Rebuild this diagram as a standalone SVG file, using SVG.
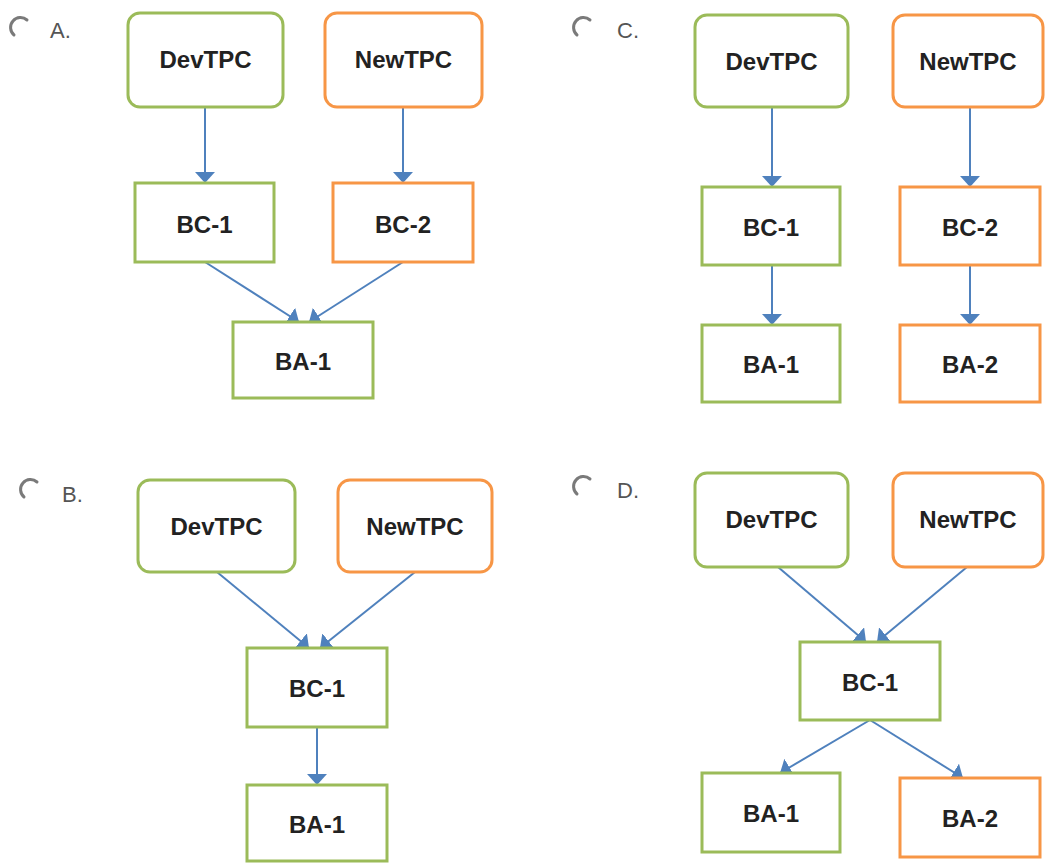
<svg xmlns="http://www.w3.org/2000/svg" width="1046" height="864" viewBox="0 0 1046 864">
<style>
.g{fill:#fff;stroke:#9BBB59;stroke-width:3}
.o{fill:#fff;stroke:#F79646;stroke-width:3}
.t{font-family:"Liberation Sans",Arial,sans-serif;font-weight:bold;font-size:24px;fill:#222;text-anchor:middle}
.lbl{font-family:"Liberation Sans",Arial,sans-serif;font-size:22px;fill:#555}
.radio{fill:none;stroke:#7a7a7a;stroke-width:3;stroke-linecap:round}
.c{stroke:#4F81BD;stroke-width:2;fill:none;marker-end:url(#ah)}
</style>
<defs>
<marker id="ah" viewBox="0 0 11 20" refX="11" refY="10" markerWidth="11" markerHeight="20" markerUnits="userSpaceOnUse" orient="auto">
<path d="M0,0 L11,10 L0,20 z" fill="#4F81BD"/>
</marker>
</defs>
<rect width="1046" height="864" fill="#fff"/>

<g id="labels">
<path class="radio" d="M27,20 A9.5,9.5 0 1 0 14,35"/>
<text class="lbl" x="50" y="38">A.</text>
<path class="radio" d="M590,20 A9.5,9.5 0 1 0 577,35"/>
<text class="lbl" x="617" y="38">C.</text>
<path class="radio" d="M37,482 A9.5,9.5 0 1 0 24,497"/>
<text class="lbl" x="62" y="502">B.</text>
<path class="radio" d="M590,479 A9.5,9.5 0 1 0 577,494"/>
<text class="lbl" x="617" y="498">D.</text>
</g>

<g id="connectors">
<line class="c" x1="205" y1="107" x2="205" y2="183"/>
<line class="c" x1="403" y1="107" x2="403" y2="183"/>
<line class="c" x1="205" y1="262" x2="299" y2="322"/>
<line class="c" x1="403" y1="262" x2="309" y2="322"/>

<line class="c" x1="772" y1="107" x2="772" y2="187"/>
<line class="c" x1="970" y1="107" x2="970" y2="187"/>
<line class="c" x1="772" y1="265" x2="772" y2="325"/>
<line class="c" x1="970" y1="265" x2="970" y2="325"/>

<line class="c" x1="217" y1="572" x2="309" y2="648"/>
<line class="c" x1="415" y1="572" x2="320" y2="648"/>
<line class="c" x1="317" y1="727" x2="317" y2="785"/>

<line class="c" x1="778" y1="567" x2="866" y2="642"/>
<line class="c" x1="967" y1="567" x2="877" y2="642"/>
<line class="c" x1="870" y1="720" x2="780" y2="773"/>
<line class="c" x1="870" y1="720" x2="963" y2="778"/>
</g>

<g id="A-DevTPC"><rect class="g" x="128" y="13" width="155" height="94" rx="12"/><text class="t" x="205.5" y="68">DevTPC</text></g>
<g id="A-NewTPC"><rect class="o" x="325" y="13" width="157" height="94" rx="12"/><text class="t" x="403.5" y="68">NewTPC</text></g>
<g id="A-BC-1"><rect class="g" x="135" y="183" width="139" height="79"/><text class="t" x="204.5" y="233">BC-1</text></g>
<g id="A-BC-2"><rect class="o" x="333" y="183" width="140" height="79"/><text class="t" x="403" y="233">BC-2</text></g>
<g id="A-BA-1"><rect class="g" x="233" y="322" width="140" height="76"/><text class="t" x="303" y="370">BA-1</text></g>

<g id="C-DevTPC"><rect class="g" x="695" y="15" width="153" height="92" rx="12"/><text class="t" x="771.5" y="70">DevTPC</text></g>
<g id="C-NewTPC"><rect class="o" x="893" y="15" width="150" height="92" rx="12"/><text class="t" x="968" y="70">NewTPC</text></g>
<g id="C-BC-1"><rect class="g" x="702" y="187" width="138" height="78"/><text class="t" x="771" y="236">BC-1</text></g>
<g id="C-BC-2"><rect class="o" x="900" y="187" width="140" height="78"/><text class="t" x="970" y="236">BC-2</text></g>
<g id="C-BA-1"><rect class="g" x="702" y="325" width="138" height="77"/><text class="t" x="771" y="373">BA-1</text></g>
<g id="C-BA-2"><rect class="o" x="900" y="325" width="140" height="77"/><text class="t" x="970" y="373">BA-2</text></g>

<g id="B-DevTPC"><rect class="g" x="138" y="480" width="157" height="92" rx="12"/><text class="t" x="216.5" y="535">DevTPC</text></g>
<g id="B-NewTPC"><rect class="o" x="338" y="480" width="154" height="92" rx="12"/><text class="t" x="415" y="535">NewTPC</text></g>
<g id="B-BC-1"><rect class="g" x="247" y="648" width="140" height="79"/><text class="t" x="317" y="697">BC-1</text></g>
<g id="B-BA-1"><rect class="g" x="247" y="785" width="140" height="76"/><text class="t" x="317" y="833">BA-1</text></g>

<g id="D-DevTPC"><rect class="g" x="695" y="473" width="153" height="94" rx="12"/><text class="t" x="771.5" y="528">DevTPC</text></g>
<g id="D-NewTPC"><rect class="o" x="893" y="473" width="150" height="94" rx="12"/><text class="t" x="968" y="528">NewTPC</text></g>
<g id="D-BC-1"><rect class="g" x="800" y="642" width="140" height="78"/><text class="t" x="870" y="691">BC-1</text></g>
<g id="D-BA-1"><rect class="g" x="702" y="773" width="138" height="79"/><text class="t" x="771" y="822">BA-1</text></g>
<g id="D-BA-2"><rect class="o" x="900" y="778" width="140" height="79"/><text class="t" x="970" y="827">BA-2</text></g>
</svg>
